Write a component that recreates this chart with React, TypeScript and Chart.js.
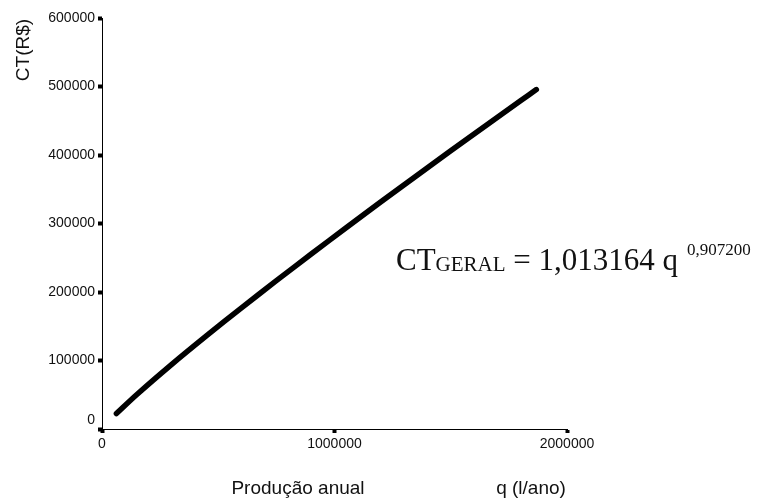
import React, { useEffect, useRef } from "react";
import { Chart, registerables } from "chart.js";

Chart.register(...registerables);

// Annual production q (l/ano) and total cost CT (R$)
const productionQ = [62000, 150000, 300000, 450000, 600000, 750000, 900000, 1050000, 1200000, 1350000, 1500000, 1650000, 1800000, 1868000];
const totalCost = [22500, 50300, 94300, 136200, 176900, 216500, 255500, 293800, 331800, 369100, 406100, 442800, 479200, 495500];

const xTicks = [0, 1000000, 2000000];
const yTicks = [0, 100000, 200000, 300000, 400000, 500000, 600000];

const yTitle = "CT(R$)";
const xTitleLeft = "Produção anual";
const xTitleRight = "q (l/ano)";
const eqMain = "CT";
const eqSub = "GERAL";
const eqRest = " = 1,013164 q";
const eqExp = "0,907200";

const SANS = "'Liberation Sans', Arial, sans-serif";
const SERIF = "'Liberation Serif', 'Times New Roman', serif";
const INK = "#111";

const textPlugin = {
  id: "textOverlay",
  afterDraw(chart: any) {
    const ctx = chart.ctx as CanvasRenderingContext2D;
    const { left, top } = chart.chartArea;
    const ys = chart.scales.y;
    ctx.save();
    ctx.fillStyle = INK;

    // zero label on the value axis sits a little above its tick
    ctx.font = `14px ${SANS}`;
    ctx.textAlign = "right";
    ctx.textBaseline = "middle";
    ctx.fillText("0", left - 7, ys.getPixelForValue(0) - 9);

    // axis titles
    ctx.font = `19px ${SANS}`;
    ctx.textAlign = "center";
    ctx.textBaseline = "alphabetic";
    ctx.fillText(xTitleLeft, 298, 494);
    ctx.fillText(xTitleRight, 531, 494);

    ctx.save();
    ctx.translate(29, 50);
    ctx.rotate(-Math.PI / 2);
    ctx.textAlign = "center";
    ctx.fillText(yTitle, 0, 0);
    ctx.restore();

    // fitted equation
    let x = left + 294;
    const base = top + 252;
    ctx.textAlign = "left";
    ctx.font = `31px ${SERIF}`;
    ctx.fillText(eqMain, x, base);
    x += ctx.measureText(eqMain).width;
    ctx.font = `21px ${SERIF}`;
    ctx.fillText(eqSub, x, base + 1);
    x += ctx.measureText(eqSub).width;
    ctx.font = `31px ${SERIF}`;
    ctx.fillText(eqRest, x, base);
    x += ctx.measureText(eqRest).width + 9;
    ctx.font = `17px ${SERIF}`;
    ctx.fillText(eqExp, x, base - 15);

    ctx.restore();
  },
};

export default function App() {
  const canvasRef = useRef<HTMLCanvasElement | null>(null);

  useEffect(() => {
    const canvas = canvasRef.current;
    if (!canvas) return;
    const points = productionQ.map((q, i) => ({ x: q, y: totalCost[i] }));
    const chart = new Chart(canvas, {
      type: "line",
      data: {
        datasets: [
          {
            data: points,
            borderColor: "#000",
            borderWidth: 5.5,
            borderCapStyle: "round",
            borderJoinStyle: "round",
            pointRadius: 0,
            tension: 0.3,
            fill: false,
          },
        ],
      },
      options: {
        responsive: false,
        animation: false,
        devicePixelRatio: 1,
        layout: { padding: { left: 0, top: 18, right: 199, bottom: 0 } },
        plugins: { legend: { display: false }, tooltip: { enabled: false } },
        scales: {
          x: {
            type: "linear",
            min: 0,
            max: 2000000,
            afterBuildTicks: (scale: any) => {
              scale.ticks = xTicks.map((v) => ({ value: v }));
            },
            afterFit: (scale: any) => {
              scale.height = 71;
            },
            border: { display: true, color: "#000", width: 1 },
            grid: {
              display: true,
              drawOnChartArea: false,
              drawTicks: true,
              tickLength: 4,
              tickWidth: 4,
              tickColor: "#000",
            },
            ticks: {
              color: INK,
              font: { family: SANS, size: 14 },
              padding: 3,
              maxRotation: 0,
              callback: (v: any) => String(v),
            },
          },
          y: {
            type: "linear",
            min: 0,
            max: 600000,
            afterBuildTicks: (scale: any) => {
              scale.ticks = yTicks.map((v) => ({ value: v }));
            },
            afterFit: (scale: any) => {
              scale.width = 102;
            },
            border: { display: true, color: "#000", width: 1 },
            grid: {
              display: true,
              drawOnChartArea: false,
              drawTicks: true,
              tickLength: 4,
              tickWidth: 4,
              tickColor: "#000",
            },
            ticks: {
              color: INK,
              font: { family: SANS, size: 14 },
              padding: 3,
              callback: (v: any) => (v === 0 ? "" : String(v)),
            },
          },
        },
      },
      plugins: [textPlugin],
    });
    return () => chart.destroy();
  }, []);

  return (
    <div style={{ position: "absolute", left: 0, top: 0, width: 766, height: 500, background: "#fff" }}>
      <canvas ref={canvasRef} width={766} height={500} style={{ width: 766, height: 500, display: "block" }} />
    </div>
  );
}
